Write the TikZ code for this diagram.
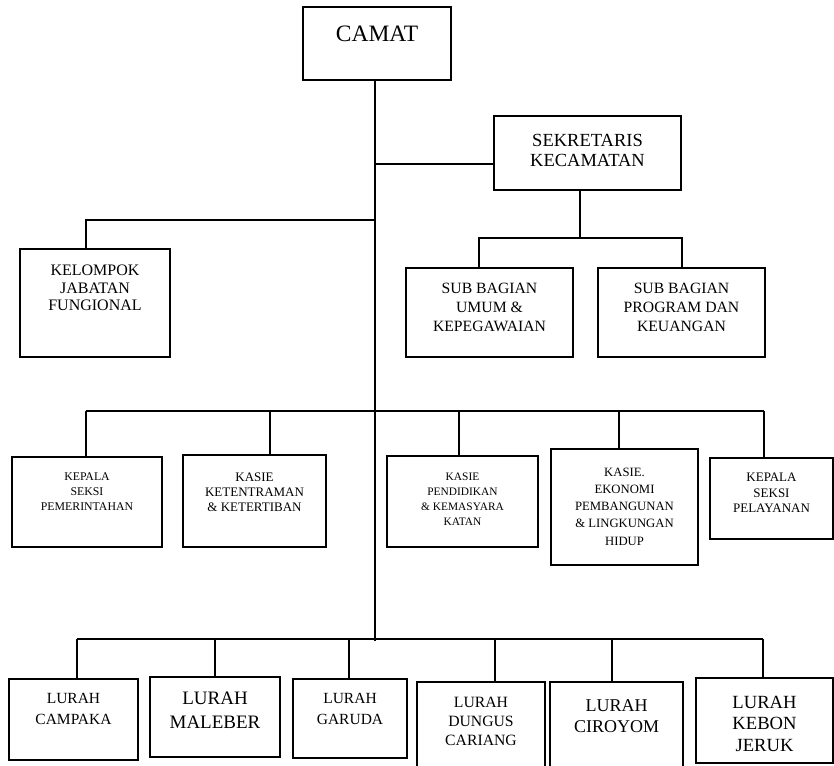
\documentclass[tikz,border=0pt]{standalone}
\usepackage{fontspec}
\setmainfont{Liberation Serif}
\usetikzlibrary{positioning}
\def\fs#1#2{\fontsize{#1}{#2}\selectfont}
\tikzset{
	unit/.style={draw, line width=1.8pt, inner sep=0pt},
	caption/.style={inner sep=0pt, align=center},
	wire/.style={line width=1.5pt},
}

\begin{document}
\begin{tikzpicture}[x=1pt, y=-1pt]
		%%%%% START %%%%%
		\useasboundingbox (0,0) rectangle (834,765);
		
		\node[unit, minimum width=148pt, minimum height=73pt] (camat) at (377,43.5) {};
		\node[caption, font=\fs{23.5}{26}, below=19.5pt of camat.north] (camat-t) {CAMAT};
		
		\node[unit, minimum width=187pt, minimum height=74pt] (sekretaris) at (587.5,153) {};
		\node[caption, font=\fs{18.5}{20}, below=18.5pt of sekretaris.north] (sekretaris-t) {SEKRETARIS\\KECAMATAN};
		
		\node[unit, minimum width=150pt, minimum height=108pt] (kelompok) at (95,303) {};
		\node[caption, font=\fs{16}{17.5}, below=17pt of kelompok.north] (kelompok-t) {KELOMPOK\\JABATAN\\FUNGIONAL};
		
		\node[unit, minimum width=167pt, minimum height=89pt] (subumum) at (489.5,312.5) {};
		\node[caption, font=\fs{15.7}{19}, below=16pt of subumum.north] (subumum-t) {SUB BAGIAN\\UMUM \&\\KEPEGAWAIAN};
		\node[unit, minimum width=167pt, minimum height=89pt] (subprog) at (681.5,312.5) {};
		\node[caption, font=\fs{15.7}{19}, below=16pt of subprog.north] (subprog-t) {SUB BAGIAN\\PROGRAM DAN\\KEUANGAN};
		
		%%%%% SEKSI %%%%%
		\node[unit, minimum width=150pt, minimum height=90pt] (pemerintahan) at (87,502) {};
		\node[caption, font=\fs{11.8}{15}, below=16.5pt of pemerintahan.north] (pemerintahan-t) {KEPALA\\SEKSI\\PEMERINTAHAN};
		\node[unit, minimum width=143pt, minimum height=92pt] (ketentraman) at (254.5,501) {};
		\node[caption, font=\fs{13}{15}, below=18.5pt of ketentraman.north] (ketentraman-t) {KASIE\\KETENTRAMAN\\\& KETERTIBAN};
		\node[unit, minimum width=151pt, minimum height=91pt] (pendidikan) at (462.5,501.5) {};
		\node[caption, font=\fs{11.4}{15.2}, below=17.5pt of pendidikan.north] (pendidikan-t) {KASIE\\PENDIDIKAN\\\& KEMASYARA\\KATAN};
		\node[unit, minimum width=147pt, minimum height=116pt] (ekonomi) at (624.5,507) {};
		\node[caption, font=\fs{12.7}{17.2}, below=19.5pt of ekonomi.north] (ekonomi-t) {KASIE.\\EKONOMI\\PEMBANGUNAN\\\& LINGKUNGAN\\HIDUP};
		\node[unit, minimum width=123pt, minimum height=81pt] (pelayanan) at (771.5,498.5) {};
		\node[caption, font=\fs{13}{15.5}, below=16pt of pelayanan.north] (pelayanan-t) {KEPALA\\SEKSI\\PELAYANAN};
		
		%%%%% LURAH %%%%%
		\node[unit, minimum width=129pt, minimum height=81pt] (campaka) at (73.5,719.5) {};
		\node[caption, font=\fs{15.5}{21}, below=15pt of campaka.north] (campaka-t) {LURAH\\CAMPAKA};
		\node[unit, line width=2.6pt, minimum width=130pt, minimum height=80pt] (maleber) at (215,717) {};
		\node[caption, font=\fs{19}{24}, below=16.5pt of maleber.north] (maleber-t) {LURAH\\MALEBER};
		\node[unit, minimum width=114pt, minimum height=79pt] (garuda) at (350,718.5) {};
		\node[caption, font=\fs{15.5}{21}, below=14.5pt of garuda.north] (garuda-t) {LURAH\\GARUDA};
		\node[unit, minimum width=128pt, minimum height=88pt] (dungus) at (481,726) {};
		\node[caption, font=\fs{15.7}{19}, below=15.5pt of dungus.north] (dungus-t) {LURAH\\DUNGUS\\CARIANG};
		\node[unit, minimum width=133pt, minimum height=88pt] (ciroyom) at (616.5,726) {};
		\node[caption, font=\fs{18}{21}, below=18pt of ciroyom.north] (ciroyom-t) {LURAH\\CIROYOM};
		\node[unit, minimum width=137pt, minimum height=85pt] (kebon) at (764.5,720.5) {};
		\node[caption, font=\fs{18.6}{21.5}, below=18.5pt of kebon.north] (kebon-t) {LURAH\\KEBON\\JERUK};
		
		%%%%% LINES %%%%%
		\coordinate (trunk) at (375,641);
		\draw[wire] (camat.south -| trunk) -- (trunk);
		
		\coordinate (j-sek) at (375,164);
		\draw[wire] (j-sek) -- (j-sek -| sekretaris.west);
		
		\coordinate (j-kel) at (86,220);
		\draw[wire] (j-kel -| trunk) -- (j-kel) -- (j-kel |- kelompok.north);
		
		\coordinate (j-sub) at (580,238);
		\coordinate (d-umum) at (479,238);
		\coordinate (d-prog) at (682,238);
		\draw[wire] (j-sub |- sekretaris.south) -- (j-sub);
		\draw[wire] (d-umum |- subumum.north) -- (d-umum) -- (d-prog) -- (d-prog |- subprog.north);
		
		\coordinate (d-pem) at (86,411);
		\coordinate (d-ket) at (270,411);
		\coordinate (d-pen) at (459,411);
		\coordinate (d-eko) at (619,411);
		\coordinate (d-pel) at (764,411);
		\draw[wire] (d-pem) -- (d-pel);
		\draw[wire] (d-pem) -- (d-pem |- pemerintahan.north);
		\draw[wire] (d-ket) -- (d-ket |- ketentraman.north);
		\draw[wire] (d-pen) -- (d-pen |- pendidikan.north);
		\draw[wire] (d-eko) -- (d-eko |- ekonomi.north);
		\draw[wire] (d-pel) -- (d-pel |- pelayanan.north);
		
		\coordinate (d-cam) at (77,639);
		\coordinate (d-mal) at (215,639);
		\coordinate (d-gar) at (349,639);
		\coordinate (d-dun) at (495,639);
		\coordinate (d-cir) at (612,639);
		\coordinate (d-keb) at (763,639);
		\draw[wire] (d-cam) -- (d-keb);
		\draw[wire] (d-cam) -- (d-cam |- campaka.north);
		\draw[wire] (d-mal) -- (d-mal |- maleber.north);
		\draw[wire] (d-gar) -- (d-gar |- garuda.north);
		\draw[wire] (d-dun) -- (d-dun |- dungus.north);
		\draw[wire] (d-cir) -- (d-cir |- ciroyom.north);
		\draw[wire] (d-keb) -- (d-keb |- kebon.north);
		
		%%%%% END %%%%%
\end{tikzpicture}
\end{document}
